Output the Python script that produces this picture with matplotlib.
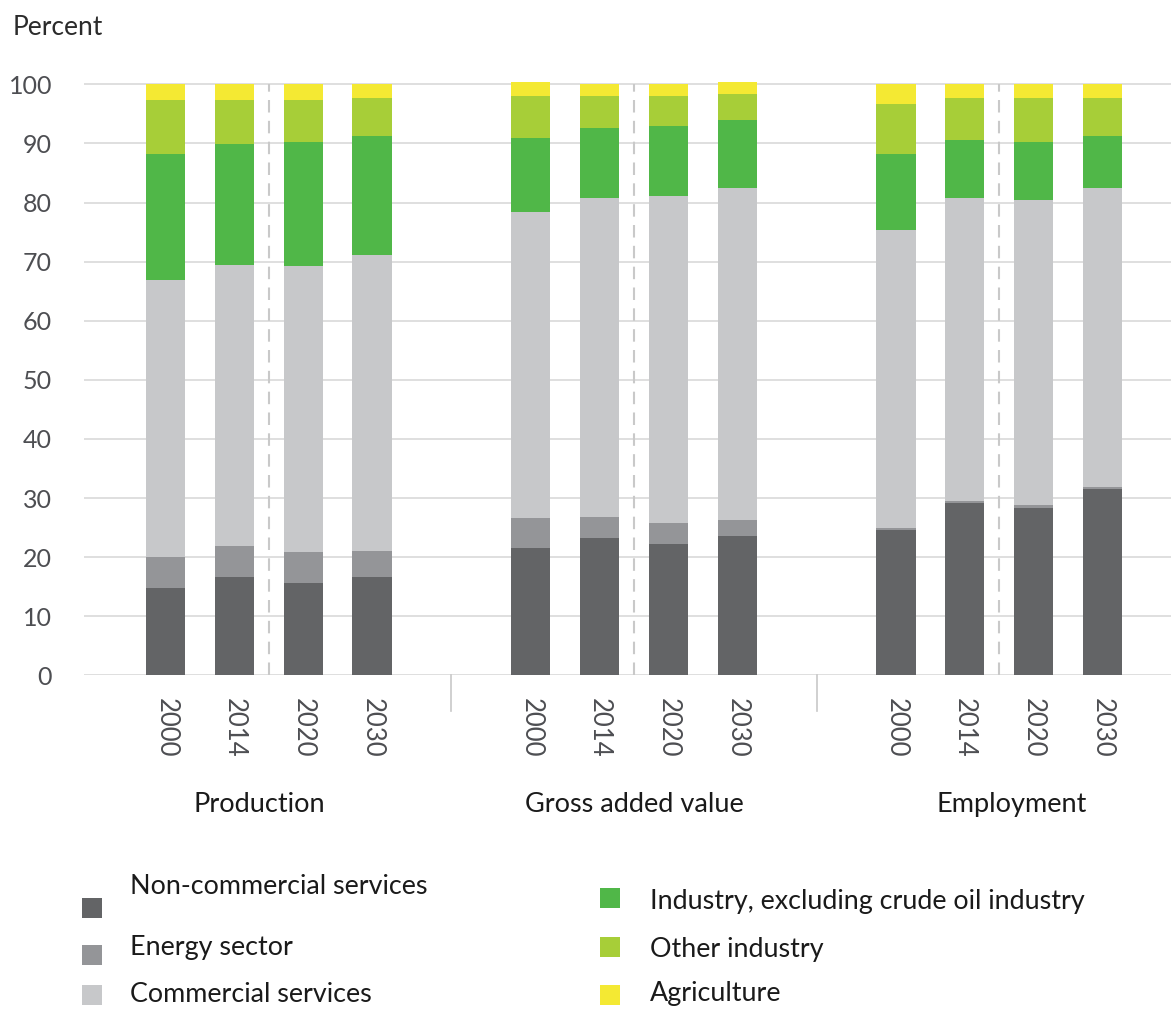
import matplotlib
matplotlib.use("Agg")
import matplotlib.pyplot as plt
import matplotlib.transforms as mtransforms
from matplotlib.patches import Rectangle
import numpy as np

plt.rcParams["font.family"] = ["Lato", "DejaVu Sans"]

# data: shares in percent, 4 years for each of the 3 groups
groups = ["Production", "Gross added value", "Employment"]
years = ["2000", "2014", "2020", "2030"]
sectors = [
    "Non-commercial services",
    "Energy sector",
    "Commercial services",
    "Industry, excluding crude oil industry",
    "Other industry",
    "Agriculture",
]

non_commercial = [14.7, 16.7, 15.7, 16.7, 21.5, 23.2, 22.2, 23.5, 24.6, 29.1, 28.3, 31.6]
energy = [5.4, 5.1, 5.1, 4.4, 5.1, 3.6, 3.6, 2.7, 0.3, 0.4, 0.6, 0.3]
commercial = [46.8, 47.7, 48.5, 50.1, 51.8, 54.0, 55.3, 56.3, 50.4, 51.3, 51.5, 50.6]
industry = [21.3, 20.4, 20.9, 20.1, 12.5, 11.8, 11.8, 11.5, 12.9, 9.8, 9.8, 8.8]
other_industry = [9.1, 7.4, 7.1, 6.3, 7.1, 5.4, 5.1, 4.4, 8.5, 7.0, 7.5, 6.4]
agriculture = [2.7, 2.7, 2.7, 2.4, 2.4, 2.0, 2.0, 2.0, 3.3, 2.4, 2.3, 2.3]

series = [non_commercial, energy, commercial, industry, other_industry, agriculture]
colors = ["#636466", "#949598", "#c7c8ca", "#50b748", "#a7ce38", "#f4e933"]

W, H = 1171, 1010
fig = plt.figure(figsize=(W / 100, H / 100), dpi=100)
ax = fig.add_axes([84 / W, 1 - 675.3 / H, 1 - 84 / W, 596.9 / H])

group_gap = 5.31
x = np.concatenate([g * group_gap + np.arange(len(years)) for g in range(len(groups))])

# stacked bars
bottom = np.zeros(len(x))
for values, color, label in zip(series, colors, sectors):
    values = np.array(values)
    ax.bar(x, values, width=0.57, bottom=bottom, color=color, label=label, zorder=3)
    bottom += values

ax.set_xlim(-1.19, x[-1] + 1.0)
ax.set_ylim(0, 101)
ax.set_yticks(range(0, 101, 10))
ax.yaxis.grid(True, color="#d6d6d6", lw=1.1)
ax.set_axisbelow(True)
for s in ax.spines.values():
    s.set_visible(False)

ax.tick_params(axis="y", length=0, pad=23, labelsize=18, labelcolor="#4d4e52")
ax.set_xticks(x, years * len(groups), rotation=270)
ax.tick_params(axis="x", length=0, pad=16, labelsize=18.5, labelcolor="#4d4e52")

# dashed line between 2014 and 2020, short separators between groups
trans = mtransforms.blended_transform_factory(ax.transData, ax.transAxes)
label_shift = [-0.14, 0.0, 0.19]
for g, name in enumerate(groups):
    xc = g * group_gap + 1.5
    ax.plot([xc, xc], [0, 100], color="#c9c9c9", lw=1.5, ls=(0, (6, 4)), zorder=2)
    ax.text(xc + label_shift[g], -0.229, name, transform=trans, ha="center",
            va="baseline", fontsize=19.5, color="#1a1a1a")
    if g > 0:
        xs = g * group_gap - (group_gap - 3) / 2
        ax.plot([xs, xs], [0, -0.059], transform=trans, clip_on=False,
                color="#c8c8c8", lw=1.2)

fig.text(13 / W, 1 - 35 / H, "Percent", fontsize=19, color="#2b2b2b", va="baseline")

# legend, two columns of colored squares
box_x = [82, 82, 82, 600, 600, 600]
box_y = [898, 945, 985, 888, 937, 985]
text_x = [130, 130, 130, 650, 650, 650]
text_y = [887, 948, 994, 901, 950, 993]
for i, (label, color) in enumerate(zip(sectors, colors)):
    fig.add_artist(Rectangle((box_x[i] / W, 1 - (box_y[i] + 20) / H), 20 / W, 20 / H,
                             transform=fig.transFigure, facecolor=color, edgecolor="none"))
    fig.text(text_x[i] / W, 1 - text_y[i] / H, label, fontsize=19.4, color="#1a1a1a",
             va="center")

fig.savefig("out.png", dpi=100)
